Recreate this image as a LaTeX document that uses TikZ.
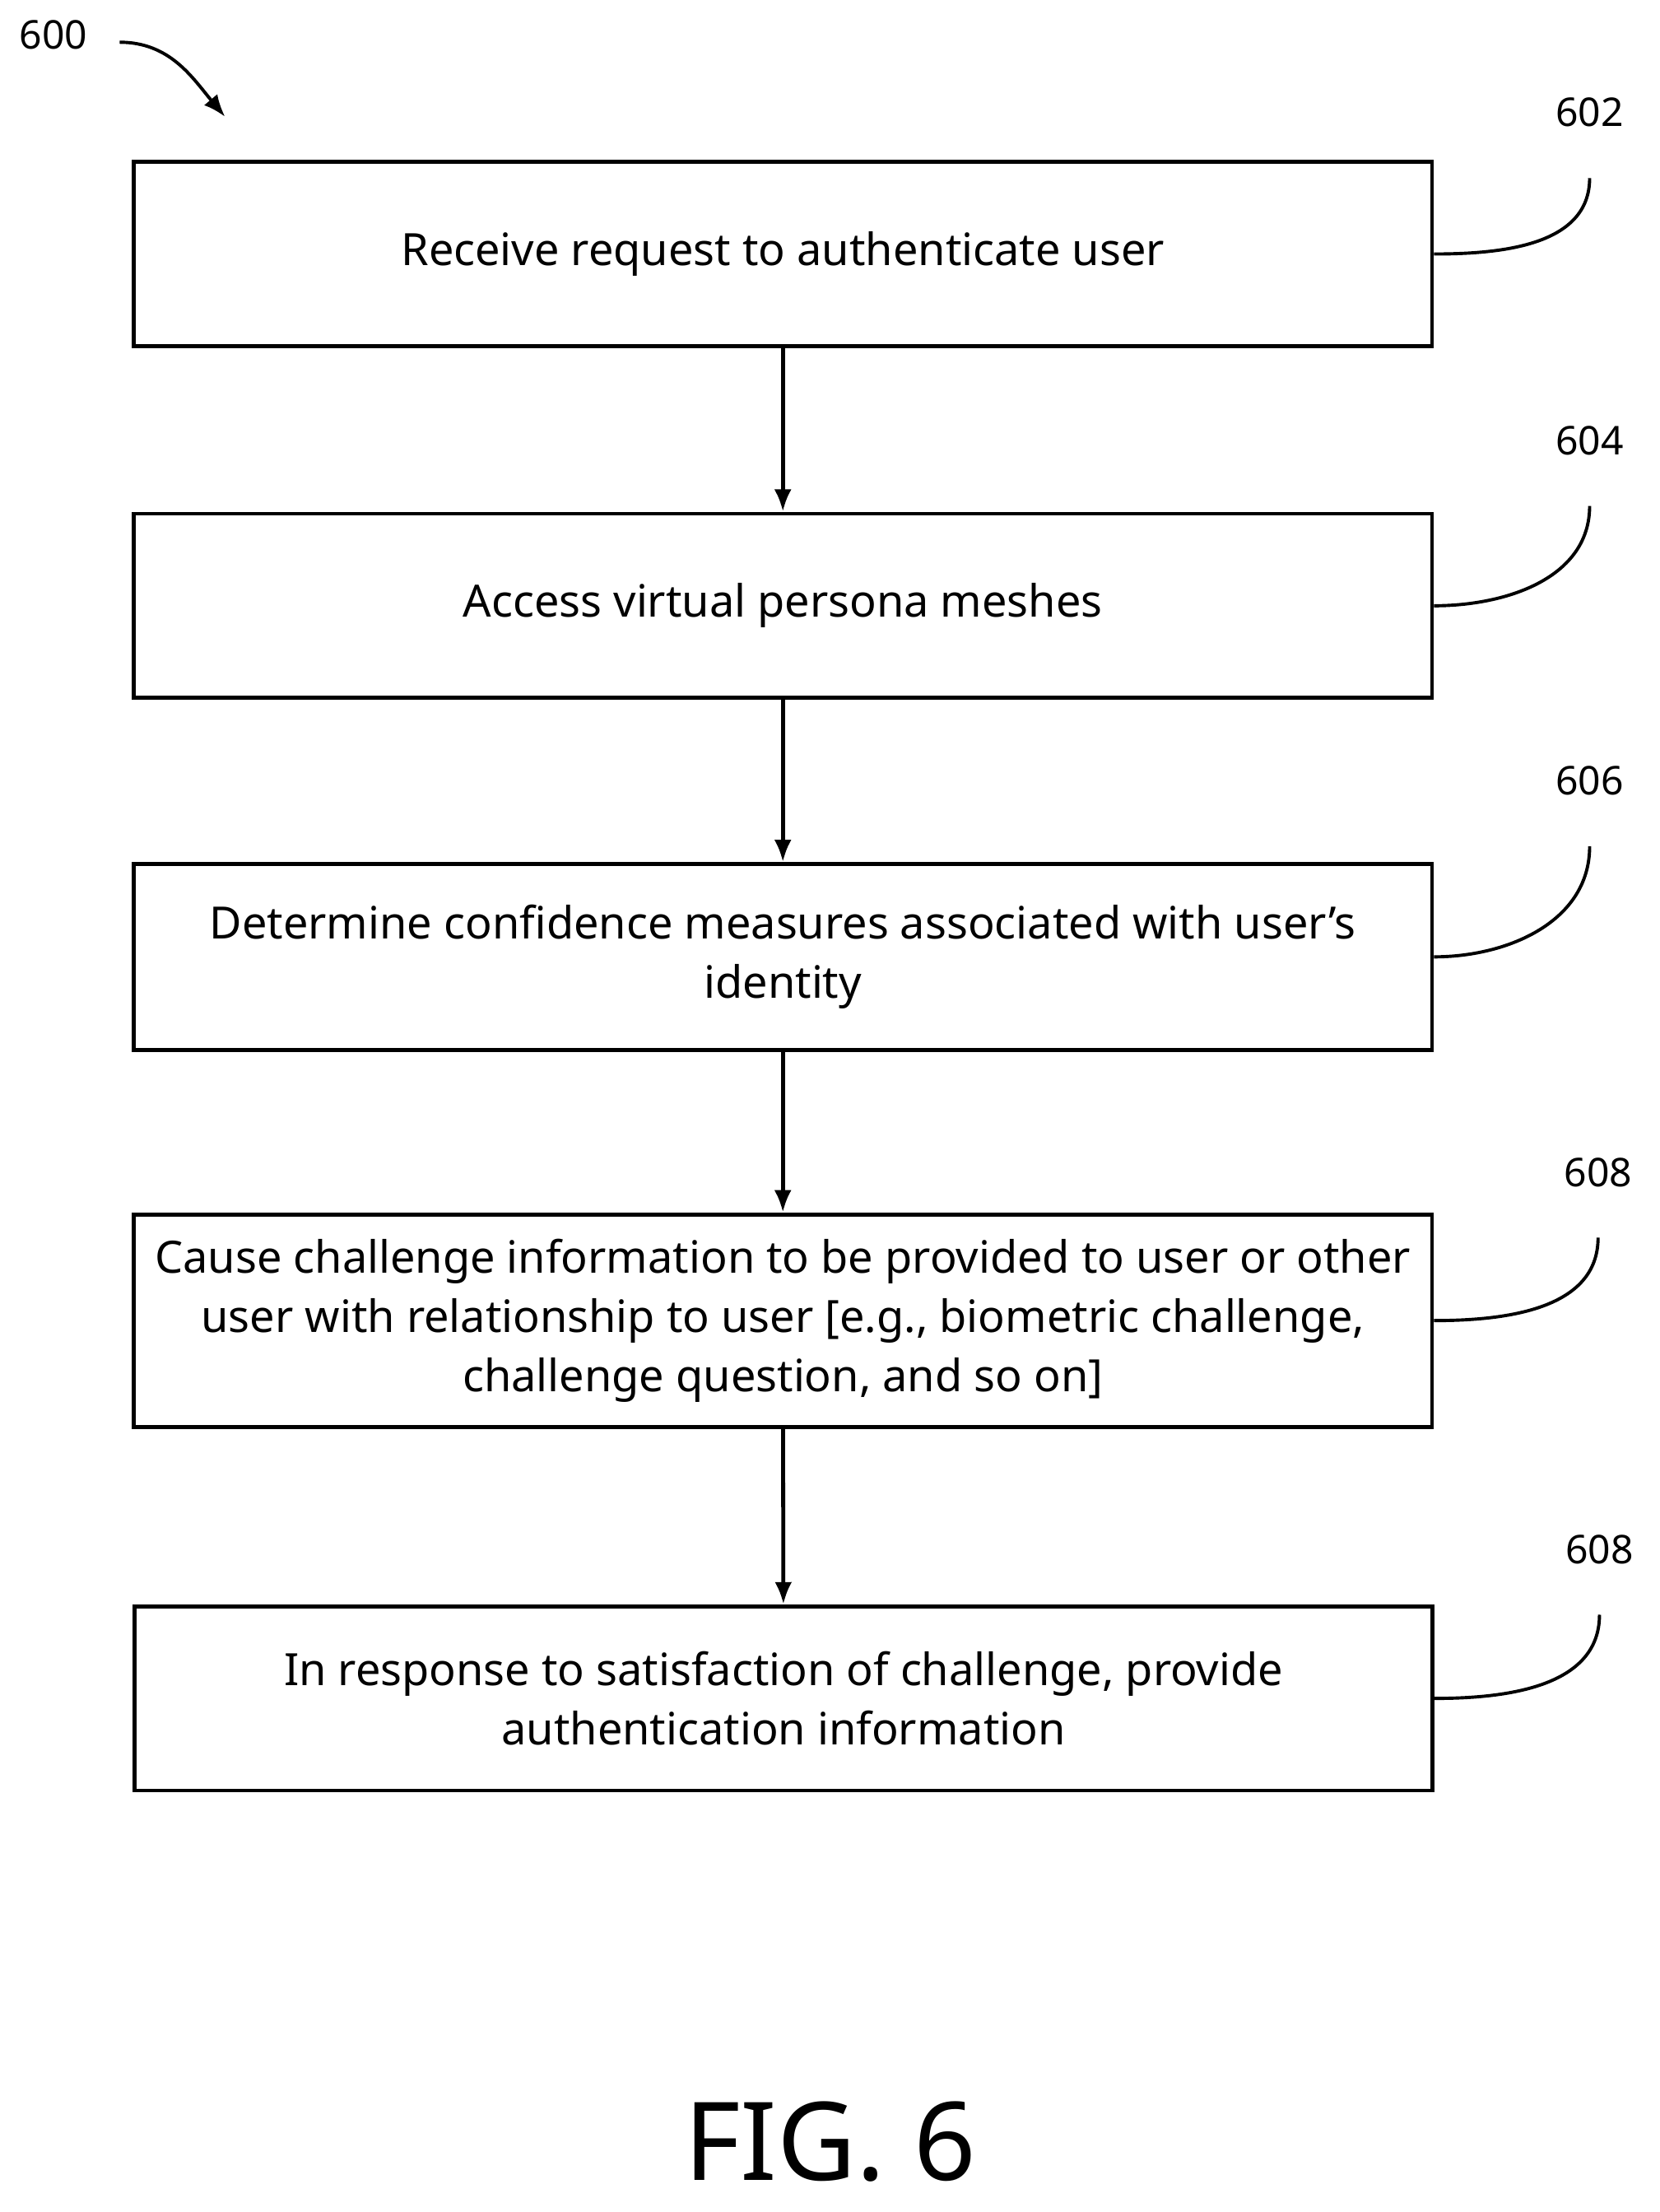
\documentclass[tikz,border=0pt]{standalone}
\usepackage{fontspec}
\setmainfont{Noto Sans}
\usetikzlibrary{arrows.meta}
\begin{document}
\begin{tikzpicture}[x=0.02cm,y=-0.02cm,
    stepbox/.style={draw,line width=1.6pt,minimum width=18.46cm,align=center,font=\fontsize{18}{24}\selectfont},
    ref/.style={font=\fontsize{16}{19}\selectfont},
    flow/.style={-{Latex[length=9pt,width=7pt]},line width=1.6pt}]

    \useasboundingbox (0,0) rectangle (1180,1572);

    % figure reference
    \node[ref] (n600) at (38,25) {600};
    \coordinate (p600) at (160,83);
    \draw[flow,line width=1.3pt] (85,30) to[out=0,in=130] (p600);

    % receive request
    \node[stepbox,minimum height=2.62cm] (s602) at (556.5,180.5) {Receive request to authenticate user};
    \node[ref] (n602) at (1130,80) {602};
    \draw[line width=1.3pt] (s602.east) to[out=0,in=270] ([yshift=-0.6cm]n602.south);

    % access meshes
    \node[stepbox,minimum height=2.62cm] (s604) at (556.5,430.5) {Access virtual persona meshes};
    \node[ref] (n604) at (1130,313) {604};
    \draw[line width=1.3pt] (s604.east) to[out=0,in=270] ([yshift=-0.6cm]n604.south);

    % confidence measures
    \node[stepbox,minimum height=2.64cm] (s606) at (556.5,680) {Determine confidence measures associated with user\char"27 s\\identity};
    \node[ref] (n606) at (1130,555) {606};
    \draw[line width=1.3pt] (s606.east) to[out=0,in=270] ([yshift=-0.6cm]n606.south);

    % challenge information
    \node[stepbox,minimum height=3.02cm] (s608) at (556.5,938.5) {Cause challenge information to be provided to user or other\\user with relationship to user [e.g., biometric challenge,\\challenge question, and so on]};
    \node[ref] (n608) at (1136,833) {608};
    \draw[line width=1.3pt] (s608.east) to[out=0,in=270] ([yshift=-0.6cm]n608.south);

    % authentication information
    \node[stepbox,minimum height=2.62cm] (s610) at (557,1207) {In response to satisfaction of challenge, provide\\authentication information};
    \node[ref] (n610) at (1137,1101) {608};
    \draw[line width=1.3pt] (s610.east) to[out=0,in=270] ([yshift=-0.6cm]n610.south);

    % flow arrows
    \draw[flow] (s602) -- (s604);
    \draw[flow] (s604) -- (s606);
    \draw[flow] (s606) -- (s608);
    \draw[flow] (s608) -- (s610);

    % caption
    \node[font=\fontsize{44}{46}\selectfont] (fig) at (590,1522) {FIG. 6};

\end{tikzpicture}
\end{document}
